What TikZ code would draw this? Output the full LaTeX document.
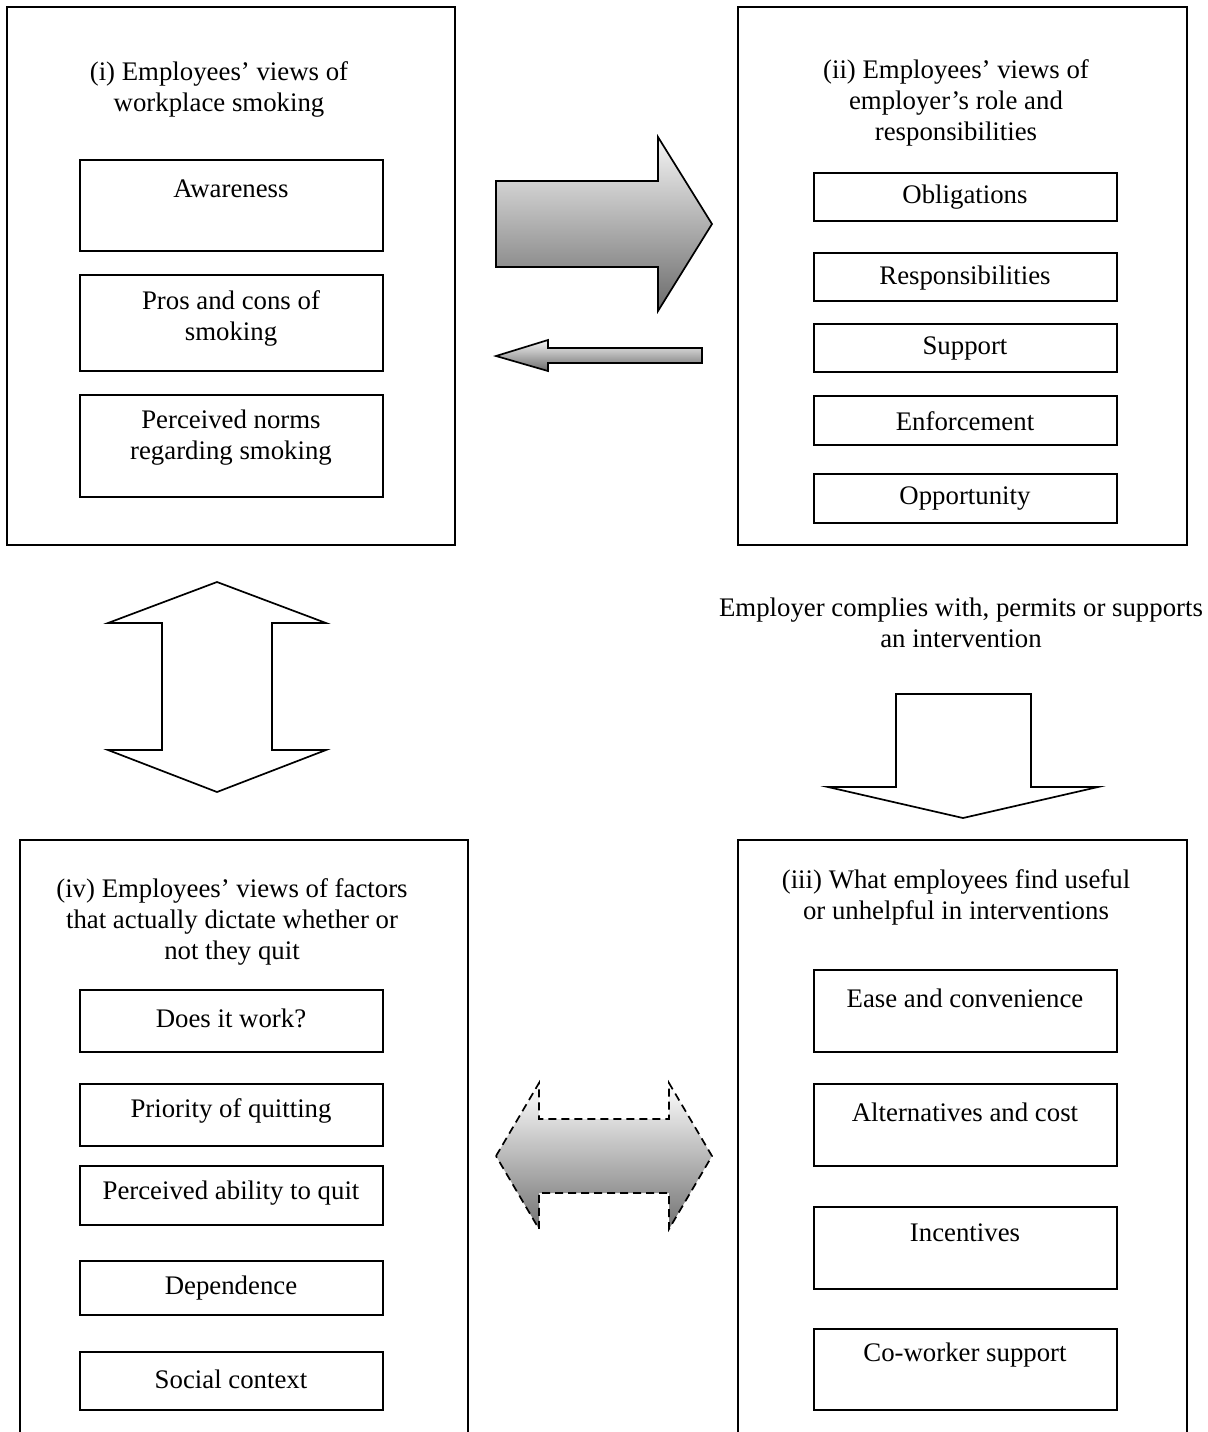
\documentclass[tikz,border=0pt]{standalone}
\usepackage{fontspec}
\setmainfont{Liberation Serif}
\usetikzlibrary{fit}
\begin{document}
\begin{tikzpicture}[x=0.5pt,y=-0.5pt,
  bigbox/.style={draw, line width=0.85pt, inner sep=0pt},
  itembox/.style={draw, line width=0.85pt, inner sep=0pt},
  lbl/.style={font=\fontsize{13.4}{15.5}\selectfont, align=center, inner sep=0pt},
  blockarrow/.style={draw, line width=0.85pt, line join=miter},
  shadedarrow/.style={blockarrow, top color=black!4, bottom color=black!58},
  dasharrow/.style={blockarrow, dash pattern=on 4pt off 2.5pt, top color=white, bottom color=black!55}]
\path[use as bounding box] (0,0) rectangle (1208,1432);
\clip (0,0) rectangle (1208,1432);

% ---------- box (i)
\node[bigbox, fit={(7,7) (455,545)}] (boxI) {};
\node[lbl] (tI) at (219,89) {(i) Employees’ views of\\workplace smoking};
\node[itembox, fit={(80,160) (383,251)}] (aw) {};
\node[lbl] (awT) at (231,189) {Awareness};
\node[itembox, fit={(80,275) (383,371)}] (pc) {};
\node[lbl] (pcT) at (231,318) {Pros and cons of\\smoking};
\node[itembox, fit={(80,395) (383,497)}] (pn) {};
\node[lbl] (pnT) at (231,438) {Perceived norms\\regarding smoking};

% ---------- box (ii)
\node[bigbox, fit={(738,7) (1187,545)}] (boxII) {};
\node[lbl] (tII) at (956,103) {(ii) Employees’ views of\\employer’s role and\\responsibilities};
\node[itembox, fit={(814,173) (1117,221)}] (ob) {};
\node[lbl] (obT) at (965,197) {Obligations};
\node[itembox, fit={(814,253) (1117,301)}] (rs) {};
\node[lbl] (rsT) at (965,278) {Responsibilities};
\node[itembox, fit={(814,324) (1117,372)}] (su) {};
\node[lbl] (suT) at (965,348) {Support};
\node[itembox, fit={(814,396) (1117,445)}] (en) {};
\node[lbl] (enT) at (965,421) {Enforcement};
\node[itembox, fit={(814,474) (1117,523)}] (op) {};
\node[lbl] (opT) at (965,499) {Opportunity};

% ---------- box (iv)
\node[bigbox, fit={(20,840) (468,1470)}] (boxIV) {};
\node[lbl] (tIV) at (232,922) {(iv) Employees’ views of factors\\that actually dictate whether or\\not they quit};
\node[itembox, fit={(80,990) (383,1052)}] (dw) {};
\node[lbl] (dwT) at (231,1018) {Does it work?};
\node[itembox, fit={(80,1084) (383,1146)}] (pq) {};
\node[lbl] (pqT) at (231,1111) {Priority of quitting};
\node[itembox, fit={(80,1166) (383,1225)}] (pa) {};
\node[lbl] (paT) at (231,1193) {Perceived ability to quit};
\node[itembox, fit={(80,1261) (383,1315)}] (de) {};
\node[lbl] (deT) at (231,1288) {Dependence};
\node[itembox, fit={(80,1352) (383,1410)}] (sc) {};
\node[lbl] (scT) at (231,1379) {Social context};

% ---------- box (iii)
\node[bigbox, fit={(738,840) (1187,1470)}] (boxIII) {};
\node[lbl] (tIII) at (956,897) {(iii) What employees find useful\\or unhelpful in interventions};
\node[itembox, fit={(814,970) (1117,1052)}] (ec) {};
\node[lbl] (ecT) at (965,998) {Ease and convenience};
\node[itembox, fit={(814,1084) (1117,1166)}] (ac) {};
\node[lbl] (acT) at (965,1112) {Alternatives and cost};
\node[itembox, fit={(814,1207) (1117,1289)}] (in) {};
\node[lbl] (inT) at (965,1233) {Incentives};
\node[itembox, fit={(814,1329) (1117,1410)}] (cw) {};
\node[lbl] (cwT) at (965,1355) {Co-worker support};

% ---------- caption of the down arrow
\node[lbl] (emp) at (961,623) {Employer complies with, permits or supports\\an intervention};

% ---------- block arrows
% big right arrow (i) -> (ii)
\path[shadedarrow] (496,181) -- (658,181) -- (658,137) -- (712,224) -- (658,311)
  -- (658,267) -- (496,267) -- cycle;
% small left arrow (ii) -> (i)
\path[shadedarrow] (496,356) -- (548,340) -- (548,348) -- (702,348) -- (702,363)
  -- (548,363) -- (548,371) -- cycle;
% up-down arrow (i) <-> (iv)
\path[blockarrow, fill=white] (217,582) -- (326,623) -- (272,623) -- (272,750)
  -- (326,750) -- (217,792) -- (108,750) -- (162,750) -- (162,623) -- (108,623) -- cycle;
% down arrow (ii) -> (iii)
\path[blockarrow, fill=white] (896,694) -- (1031,694) -- (1031,787) -- (1098,787)
  -- (963,818) -- (828,787) -- (896,787) -- cycle;
% dashed double arrow (iv) <-> (iii)
\path[dasharrow] (496,1156) -- (539,1083) -- (539,1119) -- (669,1119) -- (669,1083)
  -- (712,1156) -- (669,1229) -- (669,1193) -- (539,1193) -- (539,1229) -- cycle;
\end{tikzpicture}
\end{document}
